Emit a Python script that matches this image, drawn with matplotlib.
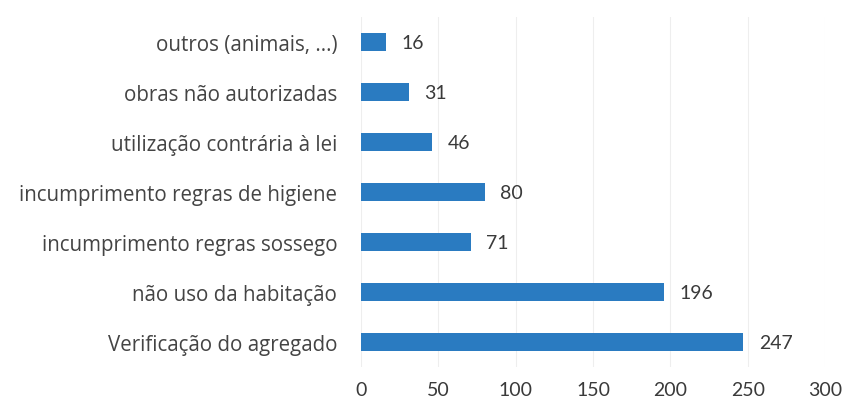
import matplotlib.pyplot as plt

# categories listed from top to bottom, as in the picture
categories = [
    'outros (animais, ...)',
    'obras não autorizadas',
    'utilização contrária à lei',
    'incumprimento regras de higiene',
    'incumprimento regras sossego',
    'não uso da habitação',
    'Verificação do agregado',
]
counts = [16, 31, 46, 80, 71, 196, 247]
x_ticks = [0, 50, 100, 150, 200, 250, 300]

plt.rcParams['font.family'] = ['Open Sans', 'DejaVu Sans']

fig = plt.figure(figsize=(8.49, 4.10), dpi=100)
ax = fig.add_axes([0.425, 0.102, 0.547, 0.854])

pos = list(range(len(categories)))[::-1]
bars = ax.barh(pos, counts, height=0.36, color='#2A7BC1')

for b, v in zip(bars, counts):
    ax.text(b.get_width() + 10, b.get_y() + b.get_height() / 2, str(v),
            va='center', ha='left', fontsize=14, color='#3A3A3A',
            family=['Lato', 'DejaVu Sans'])

ax.set_yticks(pos)
ax.set_yticklabels(categories, fontsize=14.8, color='#444444')
ax.set_xticks(x_ticks)
ax.set_xticklabels([str(t) for t in x_ticks], fontsize=14, color='#3A3A3A',
                   family=['Lato', 'DejaVu Sans'])
ax.set_xlim(0, 300)
ax.set_ylim(-0.5, len(categories) - 0.5)

ax.grid(axis='x', color='#EEEEEE', linewidth=0.8)
ax.set_axisbelow(True)
for s in ax.spines.values():
    s.set_visible(False)
ax.tick_params(axis='both', length=0)
ax.tick_params(axis='y', pad=17)
ax.tick_params(axis='x', pad=10)

fig.savefig('out.png', dpi=100, facecolor='white')
